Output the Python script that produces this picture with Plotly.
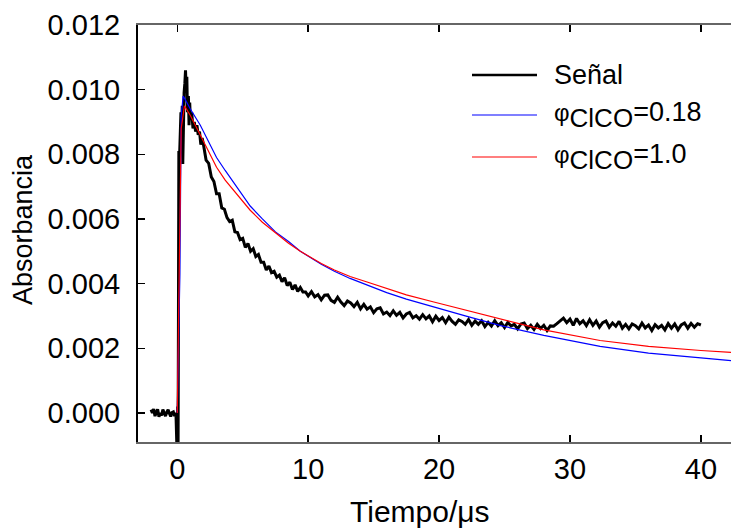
import plotly.graph_objects as go

# ---------------- data ----------------
# measured signal (Señal)
sig_x_pre = [-2.0, -1.9, -1.8, -1.7, -1.6, -1.5, -1.4, -1.3, -1.2, -1.1,
             -1.0, -0.9, -0.8, -0.7, -0.6, -0.5, -0.4, -0.3, -0.2, -0.1]
sig_y_pre = [0.00010, 0.00000, 0.00012, -0.00010, 0.00002, 0.00011, -0.00012, 0.00000,
             -0.00008, 0.00010, 0.00000, -0.00010, 0.00002, 0.00010, -0.00002, -0.00011,
             0.00001, 0.00003, -0.00010, 0.00000]

sig_x_peak = [0.0, 0.03, 0.06, 0.09, 0.12, 0.15, 0.18, 0.22, 0.28, 0.33, 0.38, 0.42,
              0.47, 0.52, 0.58, 0.63, 0.68, 0.73, 0.78, 0.85, 0.90, 0.95, 1.0, 1.1,
              1.2, 1.3, 1.4, 1.5, 1.6, 1.7, 1.8, 1.9]
sig_y_peak = [-0.0015, 0.0002, -0.0014, 0.0030, 0.0081, 0.0075, 0.0080, 0.0085, 0.0093,
              0.0088, 0.0095, 0.0077, 0.0092, 0.0099, 0.0102, 0.0106, 0.0100, 0.0104,
              0.0093, 0.0098, 0.0089, 0.0096, 0.0091, 0.0093, 0.0088, 0.0090, 0.0087,
              0.0089, 0.0086, 0.0087, 0.0083, 0.0085]

sig_x_mid = [2.0, 2.2, 2.4, 2.6, 2.8, 3.0, 3.2, 3.4, 3.6, 3.8, 4.0, 4.2, 4.4, 4.6, 4.8,
             5.0, 5.2, 5.4, 5.6, 5.8, 6.0, 6.2, 6.4, 6.6, 6.8, 7.0, 7.2, 7.4, 7.6, 7.8,
             8.0, 8.2, 8.4, 8.6, 8.8, 9.0, 9.2, 9.4, 9.6, 9.8, 10.0]
sig_y_mid = [0.00830, 0.00782, 0.00772, 0.00730, 0.00716, 0.00678, 0.00678, 0.00634,
             0.00630, 0.00604, 0.00592, 0.00596, 0.00560, 0.00558, 0.00536, 0.00540,
             0.00512, 0.00524, 0.00500, 0.00508, 0.00484, 0.00490, 0.00466, 0.00466,
             0.00442, 0.00454, 0.00434, 0.00438, 0.00420, 0.00426, 0.00406, 0.00418,
             0.00394, 0.00404, 0.00382, 0.00396, 0.00376, 0.00388, 0.00374, 0.00374,
             0.00362]

sig_x_tail = [10.25, 10.5, 10.75, 11.0, 11.25, 11.5, 11.75, 12.0, 12.25, 12.5, 12.75, 13.0,
              13.25, 13.5, 13.75, 14.0, 14.25, 14.5, 14.75, 15.0, 15.25, 15.5, 15.75, 16.0,
              16.25, 16.5, 16.75, 17.0, 17.25, 17.5, 17.75, 18.0, 18.25, 18.5, 18.75, 19.0,
              19.25, 19.5, 19.75, 20.0, 20.25, 20.5, 20.75, 21.0, 21.25, 21.5, 21.75, 22.0,
              22.25, 22.5, 22.75, 23.0, 23.25, 23.5, 23.75, 24.0, 24.25, 24.5, 24.75, 25.0,
              25.25, 25.5, 25.75, 26.0, 26.25, 26.5, 26.75, 27.0, 27.25, 27.5, 27.75, 28.0,
              28.25, 28.5, 28.75, 29.0, 29.25, 29.5, 29.75, 30.0, 30.25, 30.5, 30.75, 31.0,
              31.25, 31.5, 31.75, 32.0, 32.25, 32.5, 32.75, 33.0, 33.25, 33.5, 33.75, 34.0,
              34.25, 34.5, 34.75, 35.0, 35.25, 35.5, 35.75, 36.0, 36.25, 36.5, 36.75, 37.0,
              37.25, 37.5, 37.75, 38.0, 38.25, 38.5, 38.75, 39.0, 39.25, 39.5, 39.75, 40.0]
sig_y_tail = [0.00375, 0.00359, 0.00366, 0.00350, 0.00364, 0.00365, 0.00348, 0.00342,
              0.00358, 0.00343, 0.00332, 0.00346, 0.00340, 0.00329, 0.00342, 0.00322,
              0.00336, 0.00321, 0.00328, 0.00310, 0.00322, 0.00325, 0.00306, 0.00312,
              0.00301, 0.00316, 0.00302, 0.00311, 0.00294, 0.00306, 0.00311, 0.00294,
              0.00301, 0.00290, 0.00304, 0.00291, 0.00300, 0.00282, 0.00299, 0.00286,
              0.00295, 0.00279, 0.00296, 0.00283, 0.00274, 0.00288, 0.00283, 0.00274,
              0.00289, 0.00271, 0.00284, 0.00274, 0.00285, 0.00267, 0.00280, 0.00269,
              0.00285, 0.00270, 0.00279, 0.00264, 0.00280, 0.00269, 0.00274, 0.00260,
              0.00275, 0.00278, 0.00261, 0.00271, 0.00258, 0.00274, 0.00261, 0.00271,
              0.00255, 0.00269, 0.00268, 0.00276, 0.00285, 0.00293, 0.00279, 0.00290,
              0.00271, 0.00292, 0.00276, 0.00285, 0.00270, 0.00288, 0.00271, 0.00284,
              0.00265, 0.00279, 0.00284, 0.00265, 0.00278, 0.00268, 0.00283, 0.00262,
              0.00274, 0.00260, 0.00275, 0.00270, 0.00260, 0.00278, 0.00263, 0.00272,
              0.00255, 0.00273, 0.00263, 0.00271, 0.00257, 0.00276, 0.00262, 0.00275,
              0.00257, 0.00272, 0.00278, 0.00262, 0.00277, 0.00265, 0.00276, 0.00272]

# fit with phi_ClCO = 0.18 (blue)
fit018_x = [0.0, 0.05, 0.2, 0.3, 0.45, 0.6, 1.0, 1.76, 2.5, 3.0, 3.66, 4.5, 5.57, 6.5, 7.5,
            8.5, 9.4, 11.0, 12.0, 13.2, 14.5, 16.0, 17.5, 19.6, 22.0, 24.7, 28.0, 32.3,
            36.0, 40.0, 42.3]
fit018_y = [0.0, 0.0014, 0.0043, 0.0092, 0.0098, 0.0097, 0.0094, 0.0089, 0.0083, 0.0079,
            0.0075, 0.0070, 0.0064, 0.0060, 0.0056, 0.0053, 0.0050, 0.0046, 0.00438,
            0.00416, 0.00395, 0.00372, 0.00352, 0.00327, 0.00300, 0.00270, 0.00240,
            0.00206, 0.00185, 0.00170, 0.00162]

# fit with phi_ClCO = 1.0 (red)
fit10_x = [0.0, 0.05, 0.15, 0.3, 0.55, 1.0, 1.76, 2.5, 3.0, 3.66, 4.5, 5.57, 6.5, 7.5,
           8.5, 9.4, 11.0, 12.0, 13.2, 14.5, 16.0, 17.5, 19.6, 22.0, 24.7, 28.0, 32.3,
           36.0, 40.0, 42.3]
fit10_y = [0.0, 0.0014, 0.0045, 0.0088, 0.0095, 0.0092, 0.0086, 0.0080, 0.0076, 0.0072,
           0.0068, 0.00627, 0.0059, 0.00556, 0.00525, 0.00500, 0.00462, 0.00442, 0.00422,
           0.00405, 0.00384, 0.00365, 0.00343, 0.00318, 0.00290, 0.00257, 0.00224,
           0.00206, 0.00193, 0.00187]

y_ticks = [0.000, 0.002, 0.004, 0.006, 0.008, 0.010, 0.012]
x_ticks = [0, 10, 20, 30, 40]

legend_labels = ["Señal",
                 "<span style='font-size:24px'>φ</span><sub><span style='font-size:26px'>ClCO</span></sub>=0.18",
                 "<span style='font-size:24px'>φ</span><sub><span style='font-size:26px'>ClCO</span></sub>=1.0"]
legend_colors = ["black", "#0000ff", "#ff0000"]
legend_widths = [2.5, 1.2, 1.2]

# ---------------- figure ----------------
sig_x = sig_x_pre + sig_x_peak + sig_x_mid + sig_x_tail
sig_y = sig_y_pre + sig_y_peak + sig_y_mid + sig_y_tail

fig = go.Figure()
fig.add_trace(go.Scatter(x=sig_x, y=sig_y, mode="lines",
                         line=dict(color="black", width=3), name="Señal"))
fig.add_trace(go.Scatter(x=fit018_x, y=fit018_y, mode="lines",
                         line=dict(color="#0000ff", width=1.2), name="φClCO=0.18"))
fig.add_trace(go.Scatter(x=fit10_x, y=fit10_y, mode="lines",
                         line=dict(color="#ff0000", width=1.2), name="φClCO=1.0"))

font_family = "Liberation Sans, Arial, sans-serif"

fig.update_layout(
    width=731, height=529,
    margin=dict(l=138, r=0, t=25, b=87),
    paper_bgcolor="white", plot_bgcolor="white",
    showlegend=False,
    font=dict(family=font_family, size=29, color="black"),
)
fig.update_xaxes(
    range=[-3.0, 42.3], tickvals=x_ticks, ticktext=[str(v) for v in x_ticks],
    ticks="inside", ticklen=7, tickwidth=1.5, tickcolor="black",
    showline=True, linecolor="#666666", linewidth=2, mirror="ticks",
    showgrid=False, zeroline=False, ticklabelstandoff=0,
    tickfont=dict(size=29),
)
fig.update_yaxes(
    range=[-0.0009, 0.012], tickvals=y_ticks, ticktext=[f"{v:.3f}" for v in y_ticks],
    ticks="inside", ticklen=7, tickwidth=1.5, tickcolor="black",
    showline=True, linecolor="black", linewidth=2, mirror=False,
    showgrid=False, zeroline=False, ticklabelstandoff=10,
    tickfont=dict(size=29),
)

# axis titles as annotations (pixel placement)
W, H = 731, 529
l, r, t, b = 138, 0, 25, 87
pw, ph = W - l - r, H - t - b

def px(xp):
    return (xp - l) / pw

def py(yp):
    return (H - b - yp) / ph

fig.add_annotation(text="Absorbancia", x=px(23), y=py(229), xref="paper", yref="paper",
                   textangle=-90, showarrow=False, font=dict(size=27),
                   xanchor="center", yanchor="middle")
fig.add_annotation(text="Tiempo/μs", x=px(420), y=py(511), xref="paper", yref="paper",
                   showarrow=False, font=dict(size=30), xanchor="center", yanchor="middle")

# manual legend
rows_y = [75, 115, 157]
for lab, col, wd, yy in zip(legend_labels, legend_colors, legend_widths, rows_y):
    fig.add_shape(type="line", xref="paper", yref="paper",
                  x0=px(472), x1=px(537), y0=py(yy), y1=py(yy),
                  line=dict(color=col, width=wd))
    fig.add_annotation(text=lab, x=px(552), y=py(yy), xref="paper", yref="paper",
                       showarrow=False, xanchor="left", yanchor="middle",
                       font=dict(size=27))

fig.write_html("out.html",
               config={"displayModeBar": False, "staticPlot": True},
               post_script="document.body.style.margin='0px';"
                           "document.body.style.overflow='hidden';")
